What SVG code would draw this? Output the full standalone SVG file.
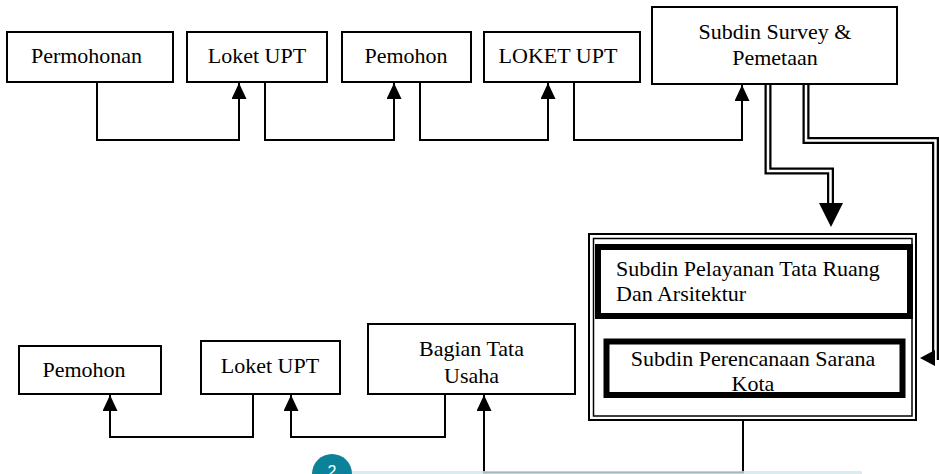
<svg xmlns="http://www.w3.org/2000/svg" width="939" height="474" viewBox="0 0 939 474">
<style>
.box{fill:#fff;stroke:#000;stroke-width:2}
.thick{fill:#fff;stroke:#000;stroke-width:6}
.t{font-family:"Liberation Serif","DejaVu Serif",serif;font-size:22px;fill:#000}
.c{text-anchor:middle}
.ln{fill:none;stroke:#000;stroke-width:2}
.dO{fill:none;stroke:#000;stroke-width:7;stroke-linejoin:miter}
.dI{fill:none;stroke:#fff;stroke-width:2.5;stroke-linejoin:miter}
</style>
<defs>
<marker id="ah" markerUnits="userSpaceOnUse" markerWidth="16" markerHeight="15" refX="16" refY="7.5" orient="auto"><path d="M0,0 L16,7.5 L0,15 z" fill="#000"/></marker>
</defs>
<rect width="939" height="474" fill="#fff"/>
<g id="connectors">
<path class="ln" d="M97,82 V140 H239 V83" marker-end="url(#ah)"/>
<path class="ln" d="M265,82 V140 H394 V83" marker-end="url(#ah)"/>
<path class="ln" d="M420,82 V140 H548 V83" marker-end="url(#ah)"/>
<path class="ln" d="M574,82 V140 H742 V85" marker-end="url(#ah)"/>
<path class="ln" d="M253,394 V437 H110 V395" marker-end="url(#ah)"/>
<path class="ln" d="M445,394 V437 H291 V395" marker-end="url(#ah)"/>
<path class="ln" d="M743,421 V472.5 H484 V395" marker-end="url(#ah)"/>
<path class="dO" d="M768,85 V171 H830.5 V204"/>
<path class="dI" d="M768,85 V171 H830.5 V204"/>
<polygon points="819,203 843,203 831,227" fill="#000"/>
<path class="dO" d="M806,85 V140.5 H935.5 V360"/>
<path class="dI" d="M806,85 V140.5 H935.5 V360"/>
<polygon points="920,358 935,350 935,366" fill="#000"/>
</g>
<g id="n-permohonan"><rect class="box" x="7" y="32" width="166" height="50"/><text class="t c" x="86.5" y="63">Permohonan</text></g>
<g id="n-loket1"><rect class="box" x="187" y="32" width="140" height="50"/><text class="t c" x="257" y="63">Loket UPT</text></g>
<g id="n-pemohon1"><rect class="box" x="342" y="32" width="129" height="50"/><text class="t c" x="406" y="63">Pemohon</text></g>
<g id="n-loket2"><rect class="box" x="484" y="32" width="156" height="50"/><text class="t c" x="558" y="63">LOKET UPT</text></g>
<g id="n-survey"><rect class="box" x="652" y="7" width="245" height="77"/><text class="t c" x="775" y="39">Subdin Survey &amp;</text><text class="t c" x="775" y="65">Pemetaan</text></g>
<g id="n-container">
<rect x="589" y="234" width="327" height="186" fill="#fff" stroke="#000" stroke-width="2"/>
<rect x="593.5" y="238.5" width="318.5" height="177.5" fill="none" stroke="#000" stroke-width="1.5"/>
</g>
<g id="n-pelayanan"><rect class="thick" x="598" y="247" width="312" height="69"/><text class="t" x="616" y="276">Subdin Pelayanan Tata Ruang</text><text class="t" x="616" y="301">Dan Arsitektur</text></g>
<g id="n-perencanaan"><rect class="thick" x="606.5" y="341.5" width="296" height="53.5"/><text class="t c" x="753" y="366">Subdin Perencanaan Sarana</text><text class="t c" x="753" y="391">Kota</text></g>
<g id="n-pemohon2"><rect class="box" x="19" y="346" width="142" height="48"/><text class="t c" x="84" y="377">Pemohon</text></g>
<g id="n-loket3"><rect class="box" x="201" y="341" width="139" height="53"/><text class="t c" x="270" y="373">Loket UPT</text></g>
<g id="n-tatausaha"><rect class="box" x="368" y="324" width="207" height="70"/><text class="t c" x="471.5" y="356">Bagian Tata</text><text class="t c" x="471.5" y="383">Usaha</text></g>
<rect x="352" y="471" width="510" height="3" fill="#cfe8ec" fill-opacity="0.8"/>
<circle cx="332" cy="474" r="20" fill="#0b8299"/>
<text x="332" y="477" font-family="Liberation Sans,Arial,sans-serif" font-size="16" fill="#fff" text-anchor="middle">2</text>
</svg>
